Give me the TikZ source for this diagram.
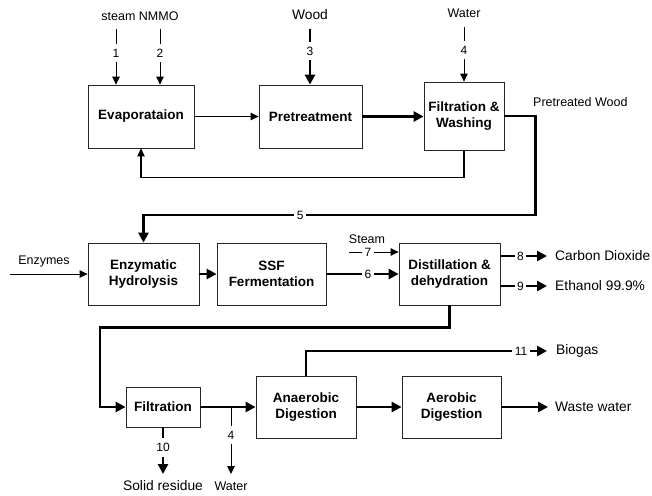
\documentclass[tikz,border=0pt]{standalone}
\usepackage{fontspec}
\setmainfont{Liberation Sans}
\usetikzlibrary{arrows.meta}
\begin{document}
\begin{tikzpicture}[x=1pt,y=-1pt,
  box/.style={draw=black!85,line width=0.8pt,align=center,inner sep=1pt,
    font=\fontsize{13.5}{15.5}\selectfont\bfseries},
  thinarrow/.style={line width=0.9pt,-{Triangle[length=8pt,width=7.5pt]}},
  thickarrow/.style={line width=2.6pt,-{Triangle[length=10pt,width=10pt]}},
  lbl/.style={fill=white,inner xsep=2.5pt,inner ysep=5pt,font=\fontsize{12}{13}\selectfont},
  small/.style={font=\fontsize{12.5}{14}\selectfont,inner sep=1pt},
  big/.style={font=\fontsize{13.8}{15}\selectfont,inner sep=1pt}]
\useasboundingbox (0,0) rectangle (652,495);

% boxes
\node[box,minimum width=106pt,minimum height=63pt] (evap) at (141,116.5) {Evaporataion};
\node[box,minimum width=103pt,minimum height=63pt] (pre) at (310.5,116.5) {Pretreatment};
\node[box,minimum width=80pt,minimum height=68pt] (fw) at (464,116) {Filtration \&\\Washing};
\node[box,minimum width=111pt,minimum height=62pt] (enz) at (143.5,274) {Enzymatic\\Hydrolysis};
\node[box,minimum width=109pt,minimum height=62pt] (ssf) at (271.5,274) {SSF\\Fermentation};
\node[box,minimum width=101pt,minimum height=62pt] (dist) at (449.5,274) {Distillation \&\\dehydration};
\node[box,minimum width=74pt,minimum height=40pt] (filt) at (163,407) {Filtration};
\node[box,minimum width=100pt,minimum height=62pt] (ana) at (306,407) {Anaerobic\\Digestion};
\node[box,minimum width=99pt,minimum height=62pt] (aer) at (451.5,407) {Aerobic\\Digestion};

% texts
\node[small] (steam) at (140,16) {steam NMMO};
\node[big] (wood) at (310,15) {Wood};
\node[small] (water) at (464,13) {Water};
\node[small,anchor=west] (ptw) at (532,102) {Pretreated Wood};
\node[small] (enzy) at (44,261) {Enzymes};
\node[small] (steam2) at (367,239) {Steam};
\node[big,anchor=west] (co2) at (554,256) {Carbon Dioxide};
\node[big,anchor=west] (eth) at (554,286) {Ethanol 99.9\%};
\node[big,anchor=west] (biogas) at (555,351) {Biogas};
\node[big,anchor=west] (waste) at (554,407) {Waste water};
\node[big] (solid) at (163,486) {Solid residue};
\node[small] (water2) at (231,486) {Water};

\coordinate (s1) at (116,29);
\coordinate (s2) at (160,29);
\coordinate (s3) at (310,29);
\coordinate (s4) at (464,27);
\coordinate (enzin) at (10,274);
\coordinate (s7) at (349,252);
\coordinate (e8) at (547,256);
\coordinate (e9) at (547,286);
\coordinate (wbr) at (231,407);
\coordinate (wend) at (231,474);
\coordinate (rend) at (163,474);
\coordinate (bend) at (547,351);
\coordinate (wwend) at (548,407);

% top inputs
\draw[thinarrow] (s1) -- node[lbl,pos=0.43]{1} (s1 |- evap.north);
\draw[thinarrow] (s2) -- node[lbl,pos=0.43]{2} (s2 |- evap.north);
\draw[thickarrow] (s3) -- node[lbl,pos=0.4]{3} (s3 |- pre.north);
\draw[thinarrow] (s4) -- node[lbl,pos=0.42]{4} (s4 |- fw.north);

% row 1
\draw[thinarrow] (evap.east) -- (pre.west);
\draw[thickarrow] (pre.east) -- (pre.east -| fw.west);
\draw[line width=1.2pt,-{Triangle[length=8pt,width=7.5pt]}] (fw.south) -- ++(0,27) -| (evap.south);
\draw[thickarrow] (fw.east) -- ++(31,0) |- node[lbl,pos=0.8]{5} (enz.north |- 0,215) -- (enz.north);

% row 2
\draw[thinarrow] (enzin) -- (enz.west);
\draw[thickarrow] (enz.east) -- (ssf.west);
\draw[thickarrow] (ssf.east) -- node[lbl,pos=0.575]{6} (dist.west |- ssf.east);
\draw[thinarrow] (s7) -- node[lbl,pos=0.38]{7} (dist.west |- s7);
\draw[thickarrow] (dist.east |- e8) -- node[lbl,pos=0.43]{8} (e8);
\draw[thickarrow] (dist.east |- e9) -- node[lbl,pos=0.43]{9} (e9);
\draw[thickarrow] (dist.south) -- ++(0,22) -| (100,407) -- (filt.west);

% row 3
\draw[thickarrow] (filt.east) -- (ana.west);
\draw[thinarrow] (wbr) -- node[lbl,pos=0.42]{4} (wend);
\draw[thickarrow] (filt.south) -- node[lbl,pos=0.43]{10} (rend);
\draw[thickarrow] (ana.north) |- node[lbl,pos=0.946]{11} (bend);
\draw[thickarrow] (ana.east) -- (aer.west);
\draw[thickarrow] (aer.east) -- (wwend);
\end{tikzpicture}
\end{document}
